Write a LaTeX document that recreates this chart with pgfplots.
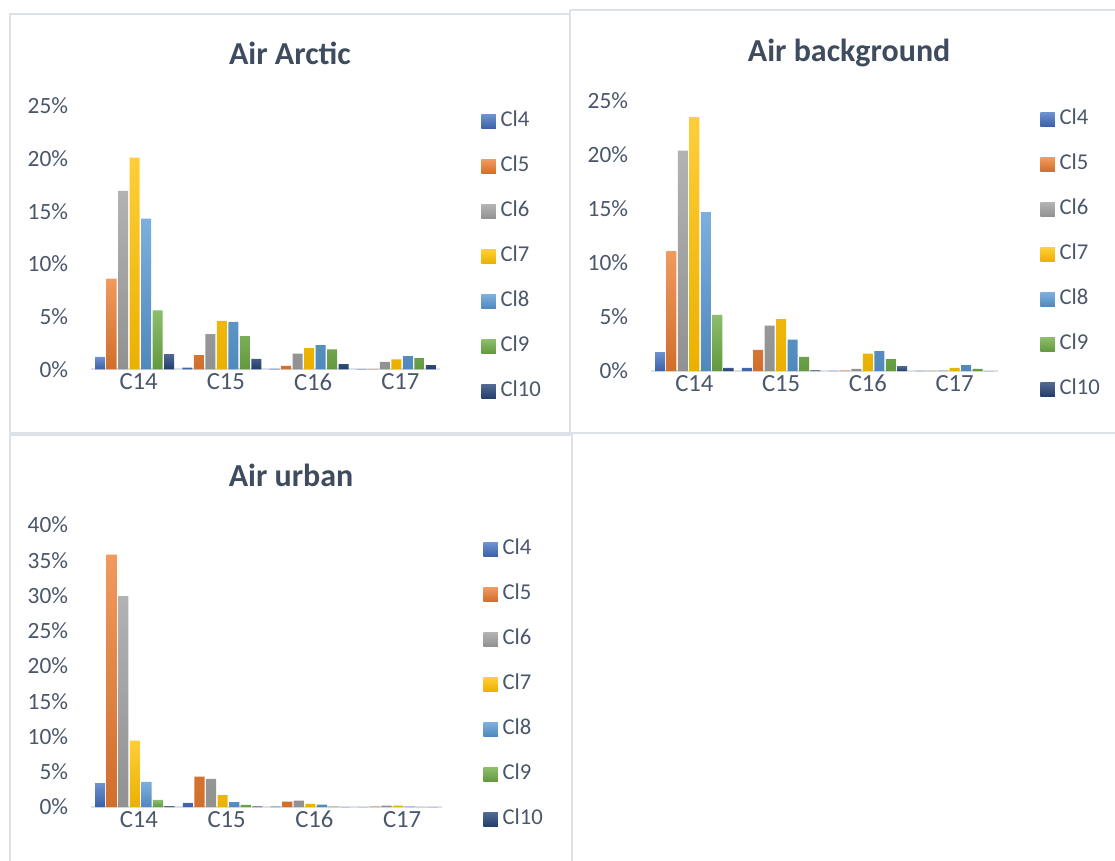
\documentclass[border=0pt]{standalone}
\usepackage{pgfplots}
\pgfplotsset{compat=1.18}
\usepackage{fontspec}
\setmainfont{Carlito}
\definecolor{c4}{HTML}{4472C4}
\definecolor{c5}{HTML}{ED7D31}
\definecolor{c6}{HTML}{A5A5A5}
\definecolor{c7}{HTML}{FFC000}
\definecolor{c8}{HTML}{5B9BD5}
\definecolor{c9}{HTML}{70AD47}
\definecolor{c10}{HTML}{264478}
\definecolor{txt}{HTML}{4A576B}
\definecolor{ttl}{HTML}{3F4C60}
\definecolor{frm}{HTML}{DDE1E8}
\pgfplotsset{
 panel/.style={
  scale only axis, anchor=south west,
  xmin=-0.5, xmax=3.5, ymin=0,
  xtick={0,1,2,3}, xticklabels={C14,C15,C16,C17},
  axis x line*=bottom, axis y line*=left,
  y axis line style={draw=none},
  x axis line style={draw=frm, line width=1.5pt},
  major tick length=0pt, tick style={draw=none},
  yticklabel={\pgfmathprintnumber[assume math mode=true]{\tick}\%},
  yticklabel style={font=\fontsize{17.5}{20}\selectfont, text=txt, inner sep=0pt, anchor=east, xshift=-17pt},
  xticklabel style={font=\fontsize{18.5}{21}\selectfont, text=txt, inner sep=0pt, anchor=north, yshift=-3pt},
  title style={font=\fontsize{24}{28}\selectfont\bfseries, text=ttl, anchor=center},
  legend cell align=left,
  legend image code/.code={\path[#1, draw=none] (0pt,-5.5pt) rectangle (11pt,5pt);},
  legend style={draw=none, fill=none, inner sep=0pt, row sep=19.75pt, column sep=3.5pt,
    nodes={inner sep=0pt, text height=11pt, text depth=3pt, font=\fontsize{17}{20}\selectfont, text=txt},
    anchor=north west},
  bar width=0.115,
 },
 b4/.style={ybar, bar shift=-0.396, draw=none, top color=c4!78!white, bottom color=c4!85!black},
 b5/.style={ybar, bar shift=-0.264, draw=none, top color=c5!78!white, bottom color=c5!88!black},
 b6/.style={ybar, bar shift=-0.132, draw=none, top color=c6!85!white, bottom color=c6!88!black},
 b7/.style={ybar, bar shift=0, draw=none, top color=c7!78!white, bottom color=c7!92!black},
 b8/.style={ybar, bar shift=0.132, draw=none, top color=c8!80!white, bottom color=c8!88!black},
 b9/.style={ybar, bar shift=0.264, draw=none, top color=c9!80!white, bottom color=c9!88!black},
 b10/.style={ybar, bar shift=0.396, draw=none, top color=c10!80!white, bottom color=c10!90!black},
}
\begin{document}
\begin{tikzpicture}
\path[use as bounding box, fill=white] (0,0) rectangle ({0.75*1115pt},{-0.75*861pt});
% panel frames
\draw[frm, line width=1.5pt] ({0.75*10pt},{-0.75*14pt}) rectangle ({0.75*570pt},{-0.75*433pt});
\draw[frm, line width=1.5pt] ({0.75*570pt},{-0.75*10pt}) -- ({0.75*1120pt},{-0.75*10pt});
\draw[frm, line width=1.5pt] ({0.75*570pt},{-0.75*10pt}) -- ({0.75*570pt},{-0.75*433pt}) -- ({0.75*1120pt},{-0.75*433pt});
\draw[frm, line width=1.5pt] ({0.75*10pt},{-0.75*870pt}) -- ({0.75*10pt},{-0.75*434.5pt}) -- ({0.75*572pt},{-0.75*434.5pt}) -- ({0.75*572pt},{-0.75*870pt});

% Air Arctic
\begin{axis}[panel, at={({0.75*91pt},{-0.75*369.3pt})}, width=261.75pt, height=197.5pt,
  ymax=25, ytick={0,5,...,25}, xticklabel style={xshift=3pt},
  title={Air Arctic}, title style={at={(axis description cs:0.570,1.171)}},
  legend style={at={(axis description cs:1.1175,0.978)}}]
\addplot[b4] coordinates {(0,1.17) (1,0.15) (2,0.05) (3,0.02)};
\addplot[b5] coordinates {(0,8.6) (1,1.35) (2,0.33) (3,0.02)};
\addplot[b6] coordinates {(0,16.95) (1,3.35) (2,1.5) (3,0.7)};
\addplot[b7] coordinates {(0,20.1) (1,4.6) (2,2.0) (3,0.95)};
\addplot[b8] coordinates {(0,14.3) (1,4.5) (2,2.3) (3,1.25)};
\addplot[b9] coordinates {(0,5.6) (1,3.15) (2,1.9) (3,1.05)};
\addplot[b10] coordinates {(0,1.45) (1,1.0) (2,0.5) (3,0.4)};
\legend{Cl4,Cl5,Cl6,Cl7,Cl8,Cl9,Cl10}
\end{axis}

% Air background
\begin{axis}[panel, at={({0.75*651pt},{-0.75*371pt})}, width=260.25pt, height=202.5pt,
  ymax=25, ytick={0,5,...,25},
  title={Air background}, title style={at={(axis description cs:0.571,1.148)}},
  legend style={at={(axis description cs:1.121,0.968)}}]
\addplot[b4] coordinates {(0,1.75) (1,0.3) (2,0.02) (3,0.02)};
\addplot[b5] coordinates {(0,11.1) (1,1.95) (2,0.03) (3,0.02)};
\addplot[b6] coordinates {(0,20.4) (1,4.2) (2,0.2) (3,0.03)};
\addplot[b7] coordinates {(0,23.5) (1,4.8) (2,1.6) (3,0.3)};
\addplot[b8] coordinates {(0,14.7) (1,2.9) (2,1.85) (3,0.55)};
\addplot[b9] coordinates {(0,5.2) (1,1.3) (2,1.1) (3,0.2)};
\addplot[b10] coordinates {(0,0.3) (1,0.05) (2,0.45) (3,0.0)};
\legend{Cl4,Cl5,Cl6,Cl7,Cl8,Cl9,Cl10}
\end{axis}

% Air urban
\begin{axis}[panel, at={({0.75*91pt},{-0.75*807pt})}, width=263.25pt, height=211.5pt,
  ymax=40, ytick={0,5,...,40}, xticklabel style={xshift=3pt},
  title={Air urban}, title style={at={(axis description cs:0.570,1.149)}},
  legend style={at={(axis description cs:1.117,0.948)}}]
\addplot[b4] coordinates {(0,3.4) (1,0.6) (2,0.05) (3,0.0)};
\addplot[b5] coordinates {(0,35.8) (1,4.3) (2,0.75) (3,0.05)};
\addplot[b6] coordinates {(0,29.9) (1,4.0) (2,0.9) (3,0.2)};
\addplot[b7] coordinates {(0,9.4) (1,1.7) (2,0.45) (3,0.2)};
\addplot[b8] coordinates {(0,3.55) (1,0.7) (2,0.35) (3,0.05)};
\addplot[b9] coordinates {(0,1.0) (1,0.3) (2,0.05) (3,0.0)};
\addplot[b10] coordinates {(0,0.15) (1,0.1) (2,0.0) (3,0.0)};
\legend{Cl4,Cl5,Cl6,Cl7,Cl8,Cl9,Cl10}
\end{axis}
\end{tikzpicture}
\end{document}
